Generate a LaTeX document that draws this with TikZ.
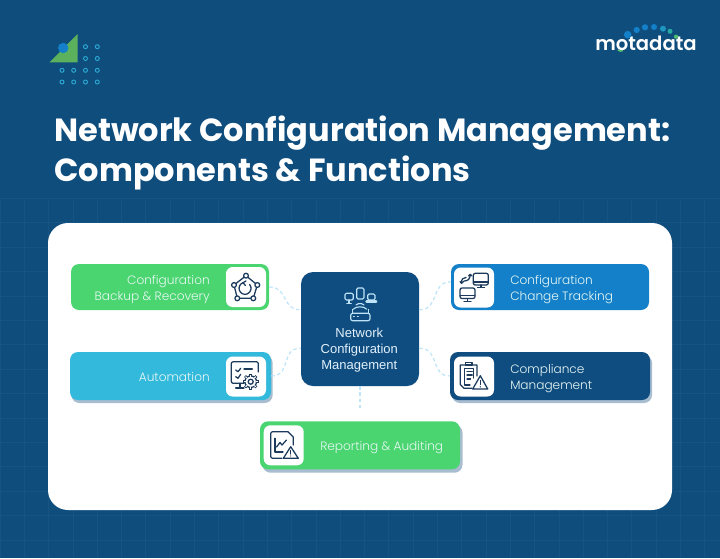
\documentclass[tikz,border=0pt]{standalone}
\usepackage{fontspec}
\setmainfont{Poppins}
\newfontfamily\popt{Poppins Light}
\newfontfamily\popb{Poppins}[BoldFont={Poppins Bold}]
\newfontfamily\pops{Poppins SemiBold}
\newfontfamily\arl{Liberation Sans}
\usetikzlibrary{calc,arrows.meta}
\definecolor{bgblue}{RGB}{15,77,125}
\definecolor{gridc}{RGB}{24,84,131}
\definecolor{greenb}{RGB}{74,213,113}
\definecolor{cyanb}{RGB}{51,185,220}
\definecolor{blueb}{RGB}{19,128,201}
\definecolor{navyb}{RGB}{15,77,128}
\definecolor{shade}{RGB}{168,189,208}
\definecolor{dashc}{RGB}{190,228,250}
\definecolor{iconc}{RGB}{27,58,92}
\definecolor{lightic}{RGB}{190,227,247}
\definecolor{ringc}{RGB}{43,169,211}
\definecolor{labelc}{RGB}{232,248,244}
\definecolor{hubtxt}{RGB}{225,240,250}
\definecolor{decog}{RGB}{92,178,92}
\definecolor{dotA}{RGB}{30,150,190}
\definecolor{dotB}{RGB}{40,170,160}
\definecolor{dotC}{RGB}{80,190,110}
\definecolor{ringg}{RGB}{90,200,110}
\tikzset{
 x=0.75pt,y=-0.75pt,
 cardbox/.style={rectangle,rounded corners=6pt,inner sep=0pt},
 shadebox/.style={cardbox,fill=shade},
 iconbox/.style={rectangle,rounded corners=5pt,inner sep=0pt,fill=white,minimum width=30pt,minimum height=30pt},
 cardtext/.style={inner sep=0pt,text=labelc,font=\popt\fontsize{9.1pt}{12pt}\selectfont},
 link/.style={draw=dashc,line width=0.9pt,dash pattern=on 2.6pt off 2pt},
 ic/.style={draw=iconc,line width=0.95pt,line cap=round,line join=round},
 icl/.style={draw=lightic,line width=0.85pt,line cap=round,line join=round},
}
\begin{document}
\begin{tikzpicture}
\useasboundingbox (0,0) rectangle (720,558);
\fill[bgblue] (0,0) rectangle (720,558);
% grid
\foreach \gx in {0,...,29}{\draw[gridc,line width=0.6pt] ({24.3*\gx},198) -- ({24.3*\gx},558);}
\foreach \gy in {0,...,14}{\draw[gridc,line width=0.6pt] (0,{198.3+24.4*\gy}) -- (720,{198.3+24.4*\gy});}
% decoration
\fill[decog] (49.5,62.3) -- (77.7,34) -- (77.7,62.3) -- cycle;
\fill[blueb] (63.2,48) circle[radius=5.2];
\foreach \rx in {85.5,97.3}{\foreach \ry in {46.7,58.5}{\draw[ringc,line width=0.7pt] (\rx,\ry) circle[radius=2];}}
\foreach \rx in {62,73.7,85.5,97.3}{\foreach \ry in {70.3,82}{\draw[ringc,line width=0.7pt] (\rx,\ry) circle[radius=2];}}
% logo
\node[anchor=base west,inner sep=0pt,text=white,font=\pops\fontsize{14.7pt}{16pt}\selectfont] (logo) at (595,50.7) {motadata};
\fill[blueb] (627.7,34.7) circle[radius=3.8];
\fill[blueb] (636.7,30) circle[radius=3.1];
\fill[blueb] (645,27.3) circle[radius=3.1];
\fill[blueb] (654,27) circle[radius=3];
\fill[dotA] (663,28.7) circle[radius=3];
\fill[dotB] (670,31.3) circle[radius=2.5];
\fill[dotC] (676,36.7) circle[radius=2.1];
\draw[ringg,line width=1pt] (617.9,50.1) arc[start angle=130,end angle=60,radius=4.4];
% title
\node[anchor=base west,inner sep=0pt,text=white,align=left,font=\popb\bfseries\fontsize{24.03pt}{30pt}\selectfont] (title) at (54,181) {Network Configuration Management:\\Components \& Functions};
% panel
\node[rectangle,rounded corners=15pt,fill=white,inner sep=0pt,minimum width=468pt,minimum height=215.25pt] (panel) at (360,366.5) {};
% shadows
\node[shadebox,minimum width=151pt,minimum height=36pt] (autoshade) at (172,379) {};
\node[shadebox,minimum width=150pt,minimum height=36pt] (compshade) at (552,379) {};
\node[shadebox,minimum width=150pt,minimum height=36pt] (repshade) at (362.5,448.7) {};
% cards
\node[cardbox,fill=greenb,minimum width=148.5pt,minimum height=34.5pt] (backup) at (170,287) {};
\node[cardbox,fill=cyanb,minimum width=150.75pt,minimum height=36pt] (auto) at (170.5,376) {};
\node[cardbox,fill=blueb,minimum width=148.5pt,minimum height=34.5pt] (track) at (550,287) {};
\node[cardbox,fill=navyb,minimum width=150pt,minimum height=36pt] (comp) at (550,376) {};
\node[cardbox,fill=greenb,minimum width=150pt,minimum height=36pt] (rep) at (360,445.3) {};
\node[rectangle,rounded corners=9pt,fill=navyb,inner sep=0pt,minimum width=88.5pt,minimum height=85.5pt] (hub) at (360,329) {};
% connectors
\draw[link] (backup.east) .. controls (289,287) and (281,310) .. (hub.162);
\draw[link] (auto.east) .. controls (292,376) and (280,348) .. (hub.198);
\draw[link] (hub.18) .. controls (440,310) and (430,282) .. (track.177);
\draw[link] (hub.-18) .. controls (440,348) and (430,376) .. (comp.west);
\draw[link,shorten >=8.5pt] (hub.south) -- (rep.north);
% icon tiles
\node[iconbox] (ic1) at (246,287) {};
\node[iconbox] (ic2) at (246,376.5) {};
\node[iconbox] (ic3) at (474,287.5) {};
\node[iconbox] (ic4) at (474,376.5) {};
\node[iconbox] (ic5) at (283.7,445.3) {};
% labels
\node[cardtext,anchor=east,align=right] (l1) at (210,289.3) {Configuration\\Backup \& Recovery};
\node[cardtext,anchor=base east] (l2) at (210,381) {Automation};
\node[cardtext,anchor=west,align=left] (l3) at (510,289.3) {Configuration\\Change Tracking};
\node[cardtext,anchor=west,align=left] (l4) at (510,378.3) {Compliance\\Management};
\node[cardtext,anchor=base west] (l5) at (320,450) {Reporting \& Auditing};
\node[inner sep=0pt,text=hubtxt,align=center,font=\arl\fontsize{9.75pt}{11.8pt}\selectfont] (hubtext) at (359.3,350) {Network\\Configuration\\Management};
% backup icon
\draw[ic] (246,275.7) -- (257.3,285) -- (253.3,298.3) -- (237.3,298.3) -- (234,285) -- cycle;
\foreach \nx/\ny in {246/275.7,257.3/285,253.3/298.3,237.3/298.3,234/285}{\filldraw[ic,fill=white] (\nx,\ny) circle[radius=2.4];}
\draw[ic] (243,282.7) arc[start angle=-110,end angle=-400,radius=6];
\draw[ic] (246,281) -- (243,282.7) -- (245.5,285.5);
% automation icon
\draw[ic,rounded corners=1.5pt] (244,383.3) -- (231.3,383.3) -- (231.3,361.7) -- (258.3,361.7) -- (258.3,372);
\draw[ic] (240,383.3) -- (240,387.7) (235.7,388) -- (244,388);
\draw[ic] (235.7,370) -- (238,371.7) -- (240.7,368.3);
\draw[ic] (235.7,376.7) -- (238,378.3) -- (240.7,374.3);
\draw[ic] (244,369) -- (252.3,369);
\filldraw[ic,fill=white] (250.7,381.7) circle[radius=5.8];
\foreach \ga in {0,45,...,315}{\draw[iconc,line width=2pt] ($(250.7,381.7)+(\ga:5.8)$) -- ($(250.7,381.7)+(\ga:8)$);}
\foreach \ga in {0,45,...,315}{\draw[white,line width=0.8pt] ($(250.7,381.7)+(\ga:5.2)$) -- ($(250.7,381.7)+(\ga:7.2)$);}
\draw[ic] (250.7,381.7) circle[radius=2.5];
% tracking icon
\draw[ic,rounded corners=1.5pt] (473.3,273.3) rectangle (488.3,285);
\draw[ic] (473.5,282) -- (488.1,282) (481,285) -- (481,287.5) (477.5,287.8) -- (484.5,287.8);
\draw[ic,rounded corners=1.5pt] (460,288) rectangle (475,298.5);
\draw[ic] (460.2,295.5) -- (474.8,295.5) (467.5,298.5) -- (467.5,301) (464,301.3) -- (471,301.3);
\draw[ic] (461.5,283) .. controls (461.5,279) and (463,277.5) .. (466,277.5);
\draw[ic] (460,281.5) -- (461.5,283.3) -- (463.5,281.5);
\draw[ic] (464,281) .. controls (468,281) and (470,279) .. (470.3,274.5);
\draw[ic] (468.5,276) -- (470.3,274.3) -- (472,276);
% compliance icon
\draw[ic] (472,388.3) -- (464,388.3) -- (460.3,384.5) -- (460.3,365) -- (477,365) -- (477,376);
\draw[ic] (464.7,368.5) -- (464.7,385) -- (470,385);
\draw[ic] (464.7,368.5) -- (473.7,368.5) -- (473.7,378);
\filldraw[ic,fill=white] (465.3,365) -- (465.3,362.3) -- (472,362.3) -- (472,365) -- cycle;
\draw[ic] (467,371.7) -- (472.2,371.7) (467,375) -- (472.2,375) (467,379) -- (470.5,379);
\filldraw[ic,fill=white] (472.7,389) -- (480.3,375.7) -- (487.7,389) -- cycle;
\draw[ic] (480.3,380.5) -- (480.3,384.5);
\fill[iconc] (480.3,386.8) circle[radius=0.7];
% reporting icon
\draw[ic,rounded corners=1.5pt] (282,458.3) -- (270.7,458.3) -- (270.7,431.7) -- (288,431.7);
\draw[ic] (288,431.7) -- (293.3,437) -- (293.3,445);
\draw[ic] (275,438.3) -- (275,452) -- (283,452);
\draw[ic] (276.5,447) -- (280,442.5) -- (282,445) -- (286.5,440);
\filldraw[ic,fill=white] (283.3,458.3) -- (290.7,446.7) -- (298.3,458.3) -- cycle;
\draw[ic] (290.7,450.5) -- (290.7,454);
\fill[iconc] (290.7,456) circle[radius=0.6];
% hub icon
\draw[icl,rounded corners=1pt] (345,293.3) rectangle (353.3,300);
\draw[icl] (349,300) -- (349,303.3) (346.8,303.5) -- (351.3,303.5);
\draw[icl,rounded corners=1pt] (356.7,288) rectangle (364,299);
\draw[icl,rounded corners=1pt] (367.7,294) rectangle (375,300);
\draw[icl,rounded corners=0.5pt] (366,300.7) rectangle (376.7,302.3);
\draw[icl] (356,305) .. controls (358,303) and (362,303) .. (364,305);
\draw[icl] (353.3,309.2) .. controls (356,306) and (364,306) .. (366.7,309.2);
\draw[icl] (352.7,309.5) -- (352.7,313.3) (368.3,309.5) -- (368.3,313.3);
\draw[icl,rounded corners=1.5pt] (350.7,313.3) rectangle (370,320.7);
\draw[icl] (353.5,316.8) -- (354.3,316.8) (357.5,316.8) -- (358.3,316.8);
\end{tikzpicture}
\end{document}
